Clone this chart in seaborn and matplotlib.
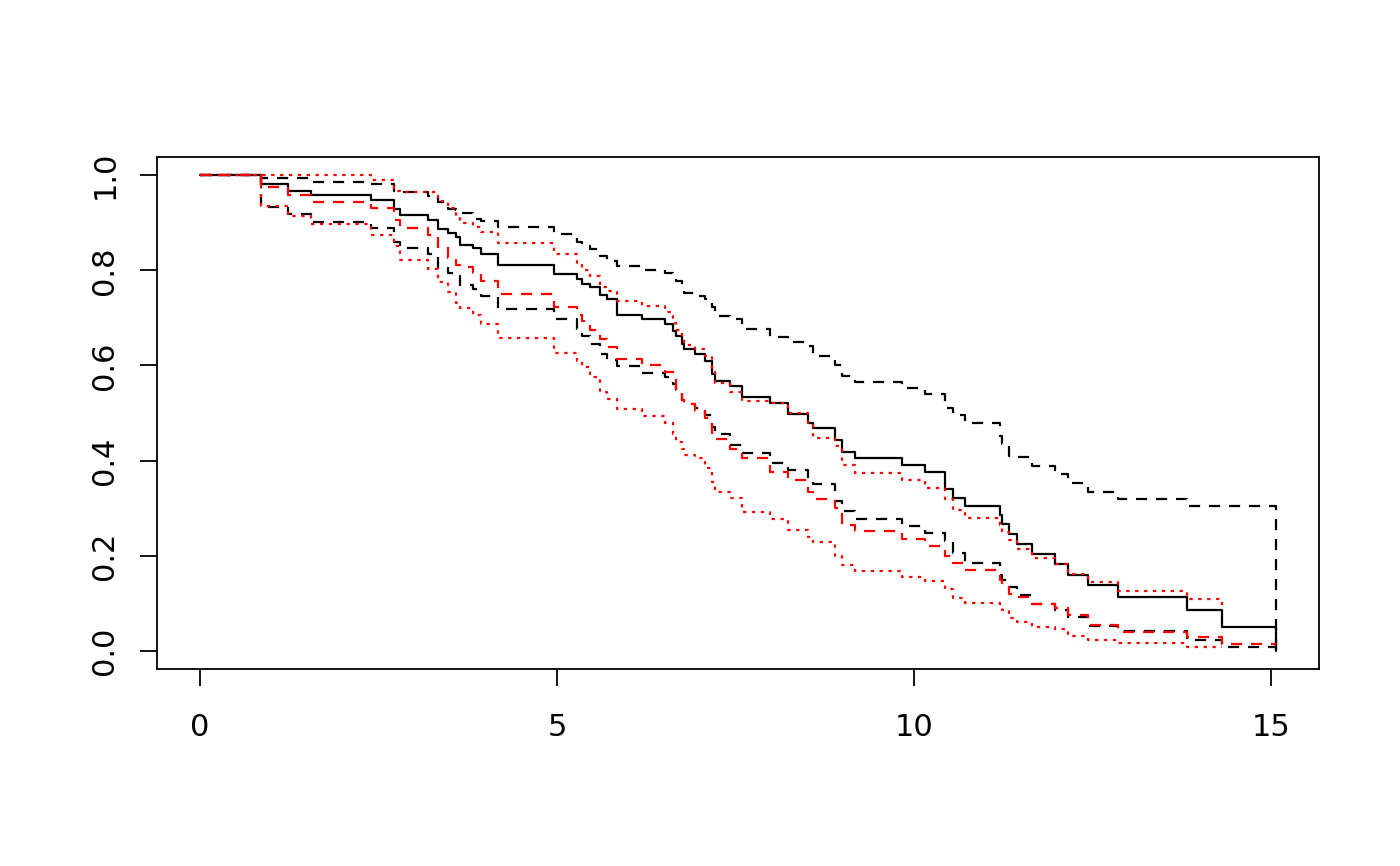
import pandas as pd
import seaborn as sns
import matplotlib
matplotlib.use("Agg")
import matplotlib.pyplot as plt

# event times (shared by all curves)
times = [0, 0.86, 1.23, 1.56, 2.40, 2.72, 2.80, 3.19, 3.33, 3.47, 3.59, 3.64, 3.83, 3.94,
         4.18, 4.96, 5.28, 5.35, 5.46, 5.60, 5.70, 5.84, 6.19, 6.51, 6.62, 6.67, 6.75, 6.78,
         6.94, 7.08, 7.17, 7.22, 7.43, 7.59, 7.98, 8.23, 8.51, 8.59, 8.90, 8.99, 9.17, 9.83,
         10.15, 10.43, 10.55, 10.72, 11.20, 11.23, 11.33, 11.45, 11.65, 11.97, 12.16, 12.44,
         12.86, 13.82, 14.31, 15.07]

# black: estimate + confidence band
surv = [1.0, 0.981, 0.967, 0.958, 0.948, 0.928, 0.916, 0.906, 0.886, 0.878, 0.869, 0.853, 0.846, 0.834,
        0.811, 0.792, 0.781, 0.771, 0.764, 0.749, 0.739, 0.707, 0.697, 0.686, 0.672, 0.662, 0.644, 0.634,
        0.623, 0.609, 0.581, 0.567, 0.557, 0.533, 0.522, 0.497, 0.480, 0.469, 0.444, 0.419, 0.406, 0.390,
        0.375, 0.341, 0.322, 0.305, 0.286, 0.267, 0.246, 0.225, 0.204, 0.183, 0.160, 0.139,
        0.114, 0.085, 0.051, 0.0]
upper = [1.0, 0.993, 0.993, 0.986, 0.981, 0.967, 0.965, 0.955, 0.943, 0.928, 0.926, 0.920, 0.907, 0.904,
         0.890, 0.876, 0.859, 0.852, 0.844, 0.830, 0.820, 0.809, 0.800, 0.795, 0.785, 0.778, 0.760, 0.752,
         0.745, 0.739, 0.722, 0.704, 0.697, 0.676, 0.660, 0.649, 0.641, 0.620, 0.600, 0.577, 0.565, 0.553,
         0.539, 0.511, 0.495, 0.478, 0.451, 0.434, 0.409, 0.407, 0.388, 0.371, 0.352, 0.334,
         0.319, 0.304, 0.304, 0.0]
lower = [1.0, 0.932, 0.918, 0.902, 0.888, 0.860, 0.846, 0.834, 0.806, 0.795, 0.788, 0.768, 0.760, 0.746,
         0.718, 0.697, 0.676, 0.662, 0.644, 0.623, 0.612, 0.599, 0.585, 0.575, 0.560, 0.548, 0.528, 0.518,
         0.510, 0.495, 0.470, 0.455, 0.432, 0.416, 0.395, 0.381, 0.362, 0.350, 0.316, 0.293, 0.277, 0.263,
         0.248, 0.230, 0.205, 0.185, 0.160, 0.150, 0.134, 0.118, 0.099, 0.085, 0.071, 0.053,
         0.041, 0.022, 0.009, 0.009]

# red: second estimate + its band (band stops at 14.31)
red_est = [1.0, 0.974, 0.958, 0.943, 0.930, 0.905, 0.888, 0.874, 0.848, 0.825, 0.812, 0.806, 0.795, 0.778,
           0.751, 0.722, 0.707, 0.693, 0.675, 0.655, 0.639, 0.613, 0.600, 0.587, 0.571, 0.550, 0.528, 0.518,
           0.505, 0.490, 0.458, 0.445, 0.425, 0.405, 0.377, 0.360, 0.335, 0.319, 0.300, 0.265, 0.251, 0.235,
           0.221, 0.200, 0.185, 0.169, 0.150, 0.135, 0.120, 0.113, 0.099, 0.090, 0.076, 0.055,
           0.040, 0.030, 0.015, 0.015]
red_upper = [1.0, 1.0, 1.0, 1.0, 0.990, 0.967, 0.964, 0.964, 0.946, 0.930, 0.915, 0.900, 0.890, 0.881,
             0.858, 0.834, 0.812, 0.800, 0.788, 0.765, 0.756, 0.735, 0.725, 0.712, 0.690, 0.675, 0.655, 0.642,
             0.635, 0.620, 0.590, 0.562, 0.545, 0.525, 0.520, 0.500, 0.478, 0.448, 0.430, 0.390, 0.373, 0.359,
             0.343, 0.320, 0.297, 0.279, 0.265, 0.250, 0.234, 0.214, 0.195, 0.183, 0.162, 0.144,
             0.125, 0.109, 0.097]
red_lower = [1.0, 0.936, 0.914, 0.897, 0.874, 0.850, 0.821, 0.802, 0.775, 0.755, 0.732, 0.720, 0.705, 0.688,
             0.657, 0.627, 0.610, 0.597, 0.575, 0.545, 0.530, 0.509, 0.493, 0.479, 0.455, 0.440, 0.425, 0.411,
             0.405, 0.385, 0.355, 0.335, 0.322, 0.291, 0.278, 0.255, 0.240, 0.228, 0.200, 0.180, 0.167, 0.156,
             0.146, 0.130, 0.111, 0.100, 0.092, 0.085, 0.070, 0.060, 0.050, 0.045, 0.032, 0.023,
             0.016, 0.009, 0.009]

sns.set_style("ticks")
plt.rcParams['font.family'] = ['DejaVu Sans']

fig = plt.figure(figsize=(14, 8.66), dpi=100)
ax = fig.add_axes([0.1121, 0.2275, 0.8300, 0.5912])

dashed = (0, (5, 4))
dotted = (0, (1.5, 2.5))
lw = 1.6

curves = [
    (surv, 'black', '-'),
    (upper, 'black', dashed),
    (lower, 'black', dashed),
    (red_est, 'red', dashed),
    (red_upper, 'red', dotted),
    (red_lower, 'red', dotted),
]
for vals, col, ls in curves:
    df = pd.DataFrame({'time': times[:len(vals)], 'surv': vals})
    sns.lineplot(data=df, x='time', y='surv', ax=ax, color=col, linestyle=ls,
                 linewidth=lw, drawstyle='steps-post', estimator=None, sort=False)

ax.set_xlim(-0.603, 15.673)
ax.set_ylim(-0.038, 1.038)
ax.set_xticks([0, 5, 10, 15])
ax.set_yticks([0.0, 0.2, 0.4, 0.6, 0.8, 1.0])
ax.set_yticklabels(['0.0', '0.2', '0.4', '0.6', '0.8', '1.0'])
ax.set_xlabel('')
ax.set_ylabel('')
for sp in ax.spines.values():
    sp.set_visible(True)
    sp.set_linewidth(1.3)
    sp.set_color('black')
ax.tick_params(axis='both', direction='out', length=12, width=1.3, colors='black',
               labelsize=22)
ax.tick_params(axis='x', pad=20)
ax.tick_params(axis='y', labelrotation=90, pad=15)
for lab in ax.get_yticklabels():
    lab.set_va('center')

fig.savefig('out.png', dpi=100)
